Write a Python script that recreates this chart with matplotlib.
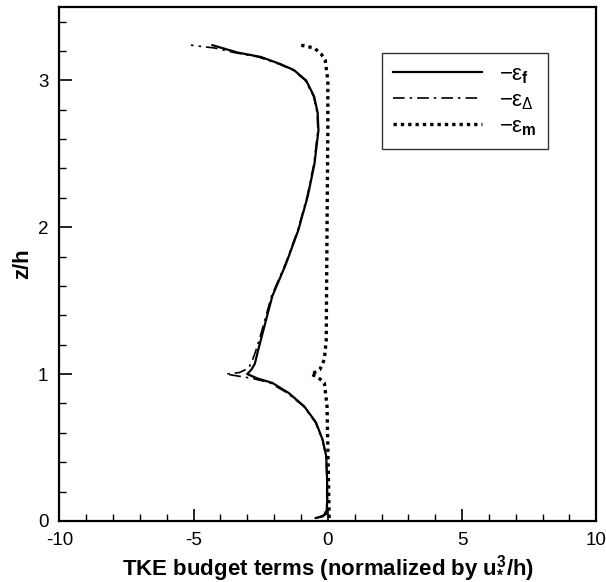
import matplotlib
matplotlib.use("Agg")
from matplotlib import pyplot as plt
from matplotlib.ticker import MultipleLocator

plt.rcParams['font.family'] = ['Liberation Sans', 'DejaVu Sans']
plt.rcParams['mathtext.fontset'] = 'custom'
plt.rcParams['mathtext.rm'] = 'Liberation Sans'
plt.rcParams['mathtext.it'] = 'Liberation Sans'
plt.rcParams['mathtext.bf'] = 'Liberation Sans:bold'
plt.rcParams['axes.unicode_minus'] = False

# -eps_f (solid)
z_f = [0.02, 0.03, 0.05, 0.15, 0.30, 0.44, 0.55, 0.67, 0.78, 0.87, 0.94, 0.97,
       1.00, 1.03, 1.07, 1.16, 1.30, 1.53, 1.75, 1.98, 2.21, 2.43, 2.66, 2.78,
       2.89, 3.00, 3.07, 3.11, 3.16, 3.19, 3.24]
eps_f = [-0.45, -0.20, -0.05, -0.02, -0.03, -0.06, -0.19, -0.44, -0.88, -1.45, -2.07, -2.62,
         -3.00, -2.85, -2.72, -2.60, -2.40, -2.07, -1.56, -1.10, -0.75, -0.50, -0.35, -0.38,
         -0.51, -0.81, -1.26, -1.75, -2.50, -3.37, -4.30]

# -eps_delta (dash-dot)
z_d = [0.02, 0.04, 0.08, 0.30, 0.44, 0.55, 0.67, 0.78, 0.87, 0.94, 0.97, 1.00,
       1.01, 1.04, 1.10, 1.16, 1.30, 1.53, 1.75, 1.98, 2.21, 2.43, 2.66, 2.78,
       2.89, 3.00, 3.07, 3.11, 3.16, 3.19, 3.22, 3.24]
eps_d = [-0.40, -0.15, -0.04, -0.04, -0.07, -0.20, -0.46, -0.90, -1.50, -2.15, -2.80, -3.80,
         -3.30, -2.95, -2.80, -2.68, -2.45, -2.10, -1.58, -1.12, -0.77, -0.52, -0.37, -0.40,
         -0.53, -0.84, -1.30, -1.80, -2.60, -3.50, -4.20, -5.10]

# -eps_m (dotted)
z_m = [0.02, 0.20, 0.50, 0.78, 0.94, 0.98, 1.00, 1.01, 1.03, 1.05, 1.10, 1.23,
       1.50, 2.00, 2.66, 3.00, 3.14, 3.18, 3.22, 3.24]
eps_m = [0.05, 0.03, 0.00, -0.03, -0.13, -0.38, -0.63, -0.50, -0.30, -0.25, -0.13, -0.06,
         -0.05, -0.03, 0.00, 0.00, -0.10, -0.25, -0.50, -1.00]

fig = plt.figure(figsize=(6.06, 5.82), dpi=100)
ax = fig.add_axes([0.098, 0.105, 0.886, 0.883])

ax.plot(eps_f, z_f, color='black', lw=1.6, ls='-', label=r'$-\varepsilon_\mathbf{f}$')
ax.plot(eps_d, z_d, color='black', lw=1.2, ls=(0, (7, 3, 1.5, 3)), label=r'$-\varepsilon_\Delta$')
ax.plot(eps_m, z_m, color='black', lw=2.4, ls=(0, (1, 1.2)), label=r'$-\varepsilon_\mathbf{m}$')

ax.set_xlim(-10, 10)
ax.set_ylim(0, 3.5)
ax.xaxis.set_major_locator(MultipleLocator(5))
ax.xaxis.set_minor_locator(MultipleLocator(1))
ax.yaxis.set_major_locator(MultipleLocator(1))
ax.yaxis.set_minor_locator(MultipleLocator(0.2))
ax.tick_params(which='major', direction='in', length=9, width=1.2, labelsize=13.5)
ax.tick_params(axis='x', which='major', pad=8)
ax.tick_params(axis='y', which='major', pad=8)
ax.tick_params(which='minor', direction='in', length=5, width=1.0)
for s in ax.spines.values():
    s.set_linewidth(1.6)

ax.set_xlabel(r'TKE budget terms (normalized by u$_\mathbf{*}^\mathbf{3}$/h)',
              fontsize=16, fontweight='bold', labelpad=3)
ax.set_ylabel('z/h', fontsize=16, fontweight='bold', labelpad=3)

leg = ax.legend(loc='upper left', bbox_to_anchor=(0.601, 0.9105), frameon=True, fancybox=False,
                edgecolor='black', fontsize=16, handlelength=4.0, handletextpad=0.75,
                labelspacing=0.2, borderpad=0.5, borderaxespad=0)
leg.get_frame().set_linewidth(1.0)

fig.savefig('out.png', dpi=100)
